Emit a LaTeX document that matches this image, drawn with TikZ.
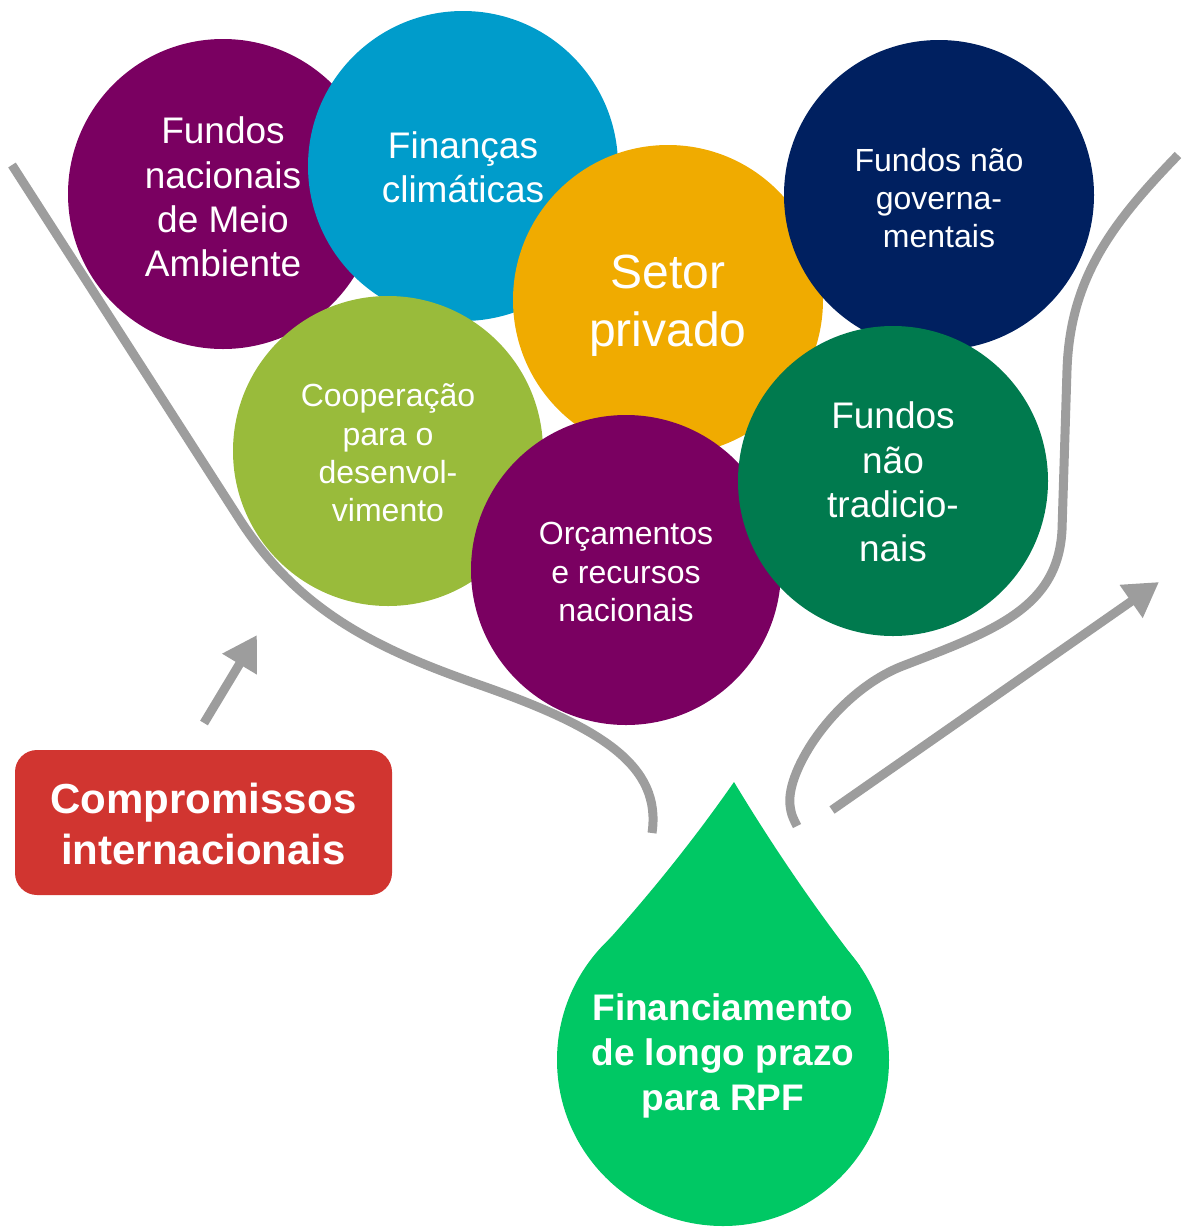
\documentclass[tikz,border=0pt]{standalone}
\usepackage{fontspec}
\setmainfont{Liberation Sans}
\usetikzlibrary{arrows.meta}
\definecolor{cpurple}{HTML}{7A0061}
\definecolor{cblue}{HTML}{009CCB}
\definecolor{corange}{HTML}{F0AB00}
\definecolor{cnavy}{HTML}{002060}
\definecolor{clgreen}{HTML}{99BB3B}
\definecolor{cdgreen}{HTML}{007A4E}
\definecolor{cred}{HTML}{D13530}
\definecolor{cdrop}{HTML}{00C864}
\definecolor{cgray}{HTML}{9D9D9D}
\begin{document}
\begin{tikzpicture}[x=1pt,y=-1pt,
  bubble/.style={circle, minimum size=310pt, inner sep=0pt},
  btext/.style={text=white, align=center, inner sep=0pt},
  fbig/.style={font=\fontsize{37}{44.4}\selectfont},
  fsmall/.style={font=\fontsize{32}{38.4}\selectfont},
  fhuge/.style={font=\fontsize{48}{57.6}\selectfont},
  funnel/.style={draw=cgray, line width=9pt},
  arrowline/.style={draw=cgray, line width=9pt, -{Triangle[length=34pt,width=38pt]}},
  boldtext/.style={text=white, align=center, font=\bfseries\fontsize{42}{50.4}\selectfont}]
\useasboundingbox (0,0) rectangle (1182,1232);

% funnel curves
\coordinate (l0) at (12,165);
\coordinate (l1) at (240,520);
\coordinate (l2) at (480,685);
\coordinate (l3) at (652,833);
\draw[funnel] (l0) -- (l1) .. controls (300,613) and (380,650) .. (l2)
  .. controls (600,727) and (662,765) .. (l3);
\coordinate (r0) at (1178,155);
\coordinate (r1) at (1067,370);
\coordinate (r2) at (1062,530);
\coordinate (r3) at (900,667);
\coordinate (r4) at (797,826);
\draw[funnel] (r0) .. controls (1110,225) and (1070,280) .. (r1) -- (r2)
  .. controls (1058,610) and (990,632) .. (r3)
  .. controls (835,694) and (786,770) .. (790,805) .. controls (791,815) and (794,820) .. (r4);

% bubbles
\node[bubble, fill=cpurple] (fna) at (223,194) {};
\node[btext, fbig] (fna-t) at ([yshift=-3pt]fna.center) {Fundos\\nacionais\\de Meio\\Ambiente};
\node[bubble, fill=cblue] (fcl) at (463,166) {};
\node[btext, fbig] (fcl-t) at ([yshift=-1pt]fcl.center) {Finanças\\climáticas};
\node[bubble, fill=corange] (spr) at (668,300) {};
\node[btext, fhuge] (spr-t) at ([yshift=-6pt]spr.center) {Setor\\privado};
\node[bubble, fill=cnavy] (fng) at (939,195) {};
\node[btext, fsmall] (fng-t) at ([yshift=-3pt]fng.center) {Fundos não\\governa-\\mentais};
\node[bubble, fill=clgreen] (coo) at (388,451) {};
\node[btext, fsmall] (coo-t) at ([yshift=-2pt]coo.center) {Cooperação\\para o\\desenvol-\\vimento};
\node[bubble, fill=cpurple] (orc) at (626,570) {};
\node[btext, fsmall] (orc-t) at ([yshift=-2pt]orc.center) {Orçamentos\\e recursos\\nacionais};
\node[bubble, fill=cdgreen] (fnt) at (893,481) {};
\node[btext, fbig] (fnt-t) at ([yshift=-1pt]fnt.center) {Fundos\\não\\tradicio-\\nais};

% arrows
\coordinate (la0) at (204,723);
\coordinate (la1) at (257,635);
\draw[arrowline] (la0) -- (la1);
\coordinate (ra0) at (832,810);
\coordinate (ra1) at (1159,582);
\draw[arrowline] (ra0) -- (ra1);

% red box
\node[fill=cred, rounded corners=22pt, minimum width=377pt, minimum height=145pt, inner sep=0pt] (com) at (203.5,822.5) {};
\node[boldtext, inner sep=0pt] (com-t) at ([yshift=-1.5pt]com.center) {Compromissos\\internacionais};

% drop
\fill[cdrop] (723,1060) circle[radius=166pt];
\fill[cdrop] (734,782) .. controls (772,845) and (814,907) .. (860,966) -- (723,1060) -- (594,956)
  .. controls (649,896) and (695,838) .. cycle;
\node[text=white, align=center, inner sep=0pt, font=\bfseries\fontsize{37}{45}\selectfont] (drop) at (723,1056) {Financiamento\\de longo prazo\\para RPF};
\end{tikzpicture}
\end{document}
